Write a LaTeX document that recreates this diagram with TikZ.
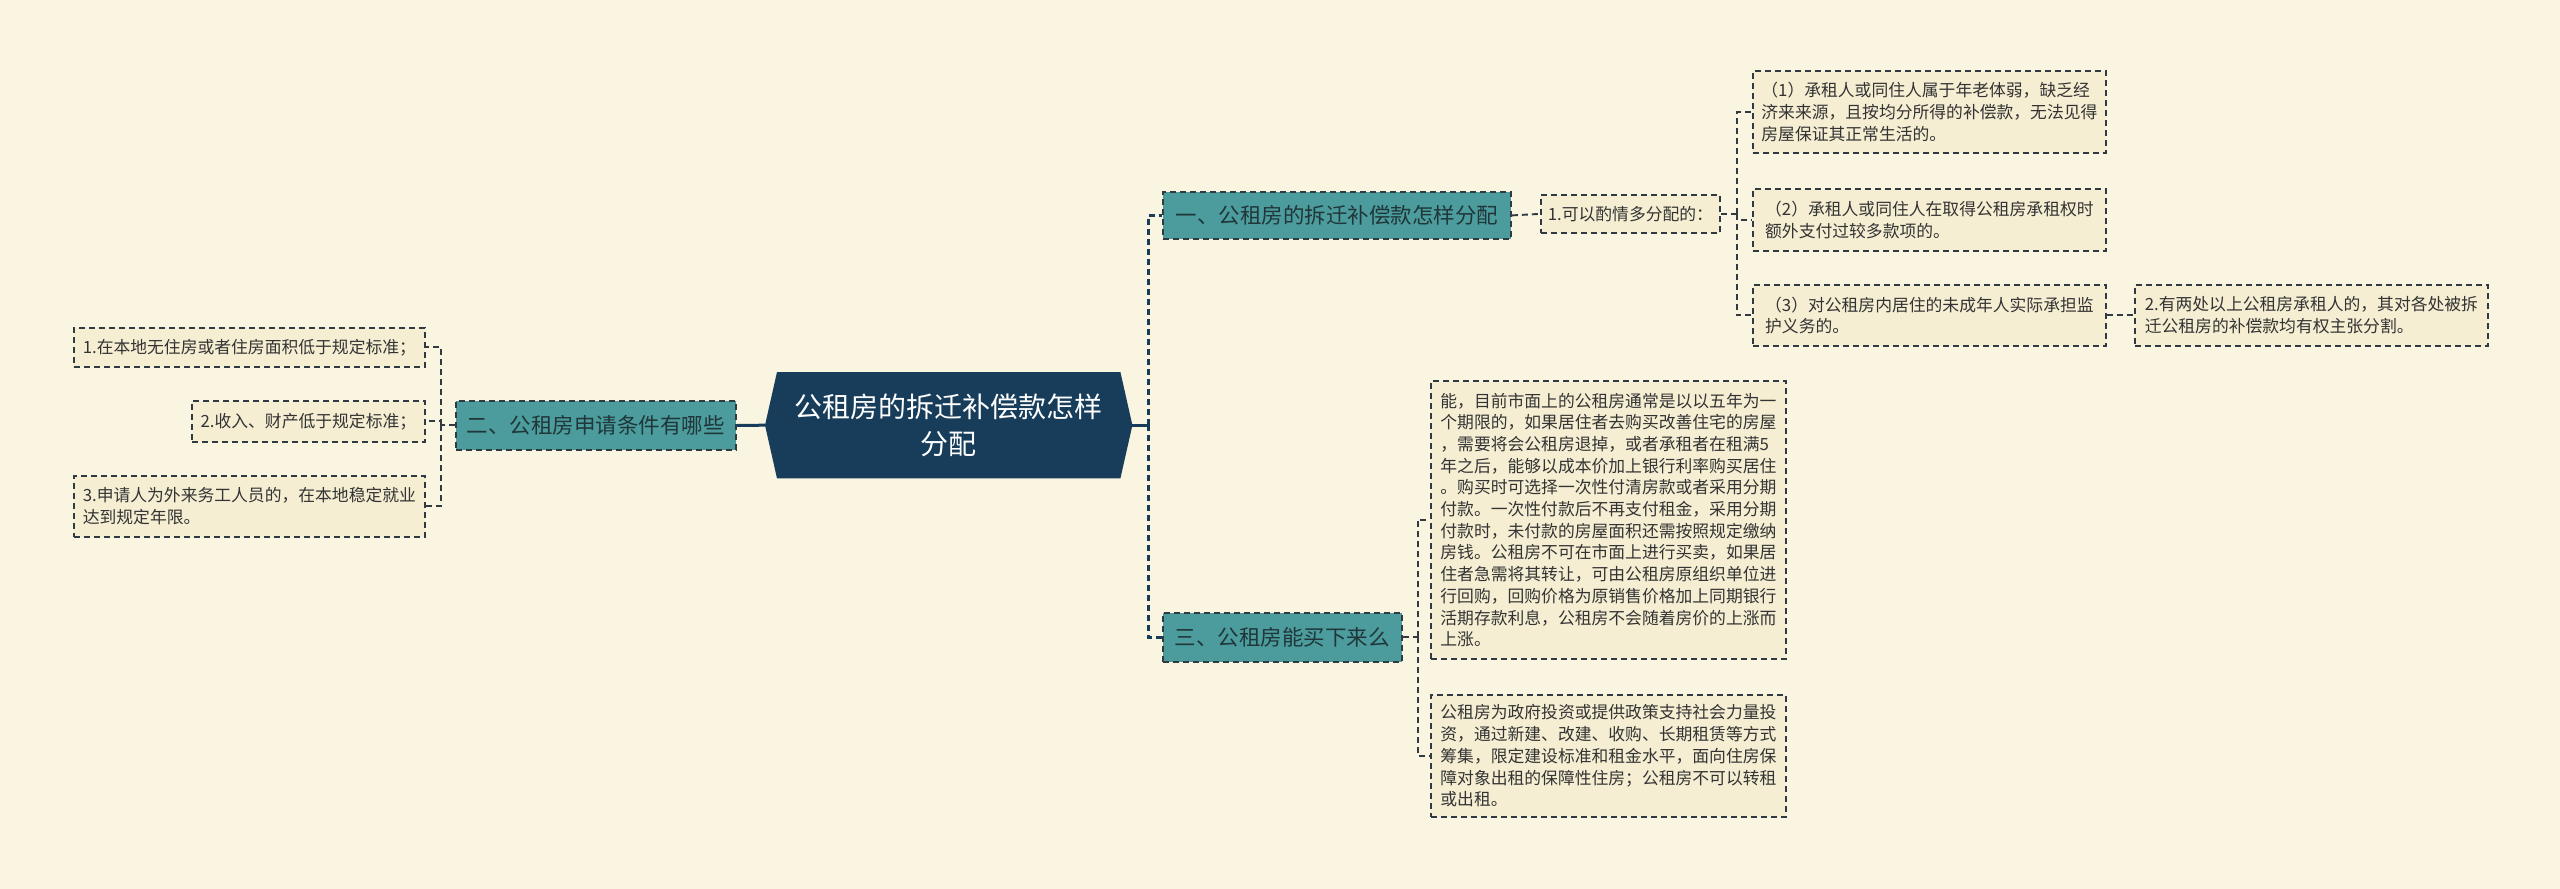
\documentclass[tikz,border=0pt]{standalone}
\usepackage{fontspec}
\setmainfont{Noto Sans CJK SC}
\usetikzlibrary{calc}
\definecolor{bgc}{HTML}{FAF5E1}
\definecolor{leafc}{HTML}{F5EED3}
\definecolor{tealc}{HTML}{4C9C9E}
\definecolor{navyc}{HTML}{173D5B}
\definecolor{linec}{HTML}{2F3A42}
\definecolor{textc}{HTML}{333333}
\definecolor{btextc}{HTML}{203638}
\tikzset{
  boxbase/.style={anchor=north west, inner sep=0pt, draw=linec, line width=1.8pt, dash pattern=on 6pt off 4pt},
  leaf/.style={boxbase, fill=leafc, align=left, text=textc, font=\fontsize{16.8}{21.7}\selectfont},
  branch/.style={boxbase, fill=tealc, text=btextc, font=\fontsize{21.5}{26}\selectfont},
  conn/.style={draw=linec, line width=1.9pt, dash pattern=on 6pt off 4pt},
  rootconn/.style={draw=navyc, line width=3pt},
  rootdash/.style={draw=navyc, line width=2.6pt, dash pattern=on 6pt off 4pt},
}
\begin{document}
\begin{tikzpicture}[x=1pt,y=-1pt]
\useasboundingbox (0,0) rectangle (2560,889);
\fill[bgc] (0,0) rectangle (2560,889);

% root
\node[anchor=north west, minimum width=343pt, minimum height=106pt, inner sep=0pt] (root) at (777,372) {};
\coordinate (rootW) at ($(root.west)+(-12pt,0)$);
\coordinate (rootE) at ($(root.east)+(12pt,0)$);
\fill[navyc] (root.north west) -- (root.north east) -- (rootE) -- (root.south east) -- (root.south west) -- (rootW) -- cycle;
\node[align=center, text=white, font=\fontsize{28}{37}\selectfont] (roottext) at (root.center) {公租房的拆迁补偿款怎样\\分配};

% left branch
\node[branch, minimum width=280pt, minimum height=49pt] (b2) at (455,400) {二、公租房申请条件有哪些};
\node[leaf, minimum width=351pt, minimum height=39pt] (ll1) at (73,327) {1.在本地无住房或者住房面积低于规定标准；};
\node[leaf, minimum width=233pt, minimum height=41pt] (ll2) at (191,400) {2.收入、财产低于规定标准；};
\node[leaf, minimum width=351pt, minimum height=61pt] (ll3) at (73,475) {3.申请人为外来务工人员的，在本地稳定就业\\达到规定年限。};

% right branch 1
\node[branch, minimum width=348pt, minimum height=47pt] (b1) at (1162,191) {一、公租房的拆迁补偿款怎样分配};
\node[leaf, minimum width=179pt, minimum height=38pt] (s1) at (1540,194) {1.可以酌情多分配的：};
\node[leaf, minimum width=353pt, minimum height=82pt] (r1) at (1752,70) {（1）承租人或同住人属于年老体弱，缺乏经\\济来来源，且按均分所得的补偿款，无法见得\\房屋保证其正常生活的。};
\node[leaf, minimum width=353pt, minimum height=62pt] (r2) at (1752,188) {（2）承租人或同住人在取得公租房承租权时\\额外支付过较多款项的。};
\node[leaf, minimum width=353pt, minimum height=61pt] (r3) at (1752,284) {（3）对公租房内居住的未成年人实际承担监\\护义务的。};
\node[leaf, minimum width=353pt, minimum height=61pt] (r4) at (2134,284) {2.有两处以上公租房承租人的，其对各处被拆\\迁公租房的补偿款均有权主张分割。};

% right branch 3
\node[branch, minimum width=239pt, minimum height=49pt] (b3) at (1162,612) {三、公租房能买下来么};
\node[leaf, minimum width=355pt, minimum height=278pt] (t1) at (1430,380) {能，目前市面上的公租房通常是以以五年为一\\个期限的，如果居住者去购买改善住宅的房屋\\，需要将会公租房退掉，或者承租者在租满5\\年之后，能够以成本价加上银行利率购买居住\\。购买时可选择一次性付清房款或者采用分期\\付款。一次性付款后不再支付租金，采用分期\\付款时，未付款的房屋面积还需按照规定缴纳\\房钱。公租房不可在市面上进行买卖，如果居\\住者急需将其转让，可由公租房原组织单位进\\行回购，回购价格为原销售价格加上同期银行\\活期存款利息，公租房不会随着房价的上涨而\\上涨。};
\node[leaf, minimum width=355pt, minimum height=122pt] (t2) at (1430,694) {公租房为政府投资或提供政策支持社会力量投\\资，通过新建、改建、收购、长期租赁等方式\\筹集，限定建设标准和租金水平，面向住房保\\障对象出租的保障性住房；公租房不可以转租\\或出租。};

% connectors
\draw[rootconn] (rootW) -- (b2.east);
\draw[conn] (b2.west) -- ++(-14,0) coordinate (jl);
\draw[conn] (jl) |- (ll1.east);
\draw[conn] (jl) |- (ll2.east);
\draw[conn] (jl) |- (ll3.east);

\draw[rootconn] (rootE) -- ++(16,0) coordinate (jr);
\draw[rootdash] (jr) |- (b1.west);
\draw[rootdash] (jr) |- (b3.west);

\draw[conn] (b1.east) -- (s1.west);
\draw[conn] (s1.east) -- ++(16,0) coordinate (j1);
\draw[conn] (j1) |- (r1.west);
\draw[conn] (j1) |- (r2.west);
\draw[conn] (j1) |- (r3.west);
\draw[conn] (r3.east) -- (r4.west);

\draw[conn] (b3.east) -- ++(15,0) coordinate (j3);
\draw[conn] (j3) |- (t1.west);
\draw[conn] (j3) |- (t2.west);
\end{tikzpicture}
\end{document}
